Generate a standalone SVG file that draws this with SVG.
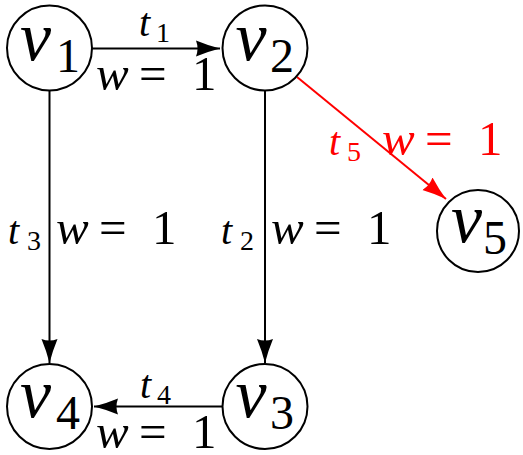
<svg xmlns="http://www.w3.org/2000/svg" width="523" height="455" viewBox="0 0 523 455">
<style>
.node{fill:#fff;stroke:#000;stroke-width:2}
.edge{stroke:#000;stroke-width:2;fill:none}
</style>
<defs>
<marker id="ah" markerUnits="userSpaceOnUse" viewBox="0 0 25 18" markerWidth="25" markerHeight="18" refX="24" refY="9" orient="auto">
<path d="M24,9 Q12,6 0,1 Q3,9 0,17 Q12,12 24,9 Z" fill="#000"/>
</marker>
<marker id="ahr" markerUnits="userSpaceOnUse" viewBox="0 0 25 18" markerWidth="25" markerHeight="18" refX="24" refY="9" orient="auto">
<path d="M24,9 Q12,6 0,1 Q3,9 0,17 Q12,12 24,9 Z" fill="#f00"/>
</marker>
</defs>
<g id="connectors">
<line class="edge" x1="92" y1="48.5" x2="220" y2="48.5" marker-end="url(#ah)"/>
<line class="edge" x1="49.5" y1="91" x2="49.5" y2="363" marker-end="url(#ah)"/>
<line class="edge" x1="265" y1="91" x2="265" y2="363" marker-end="url(#ah)"/>
<line class="edge" x1="222" y1="406.5" x2="94" y2="406.5" marker-end="url(#ah)"/>
<line class="edge" stroke="#f00" style="stroke:#f00" x1="297" y1="77" x2="446" y2="199" marker-end="url(#ahr)"/>
</g>
<g id="labels">
<text x="139" y="36" font-size="40" font-family="Times New Roman" font-style="italic">t<tspan font-style="normal" font-size="28" x="156" y="42">1</tspan></text>
<text x="96" y="90" font-size="49" font-family="Times New Roman" font-style="italic">w<tspan font-style="normal" x="139">=</tspan><tspan font-style="normal" x="192">1</tspan></text>
<text x="8" y="244" font-size="40" font-family="Times New Roman" font-style="italic">t<tspan font-style="normal" font-size="28" x="27" y="250">3</tspan></text>
<text x="56" y="244" font-size="49" font-family="Times New Roman" font-style="italic">w<tspan font-style="normal" x="99">=</tspan><tspan font-style="normal" x="152">1</tspan></text>
<text x="221" y="244" font-size="40" font-family="Times New Roman" font-style="italic">t<tspan font-style="normal" font-size="28" x="240" y="250">2</tspan></text>
<text x="271" y="244" font-size="49" font-family="Times New Roman" font-style="italic">w<tspan font-style="normal" x="314">=</tspan><tspan font-style="normal" x="367">1</tspan></text>
<text x="140" y="398" font-size="40" font-family="Times New Roman" font-style="italic">t<tspan font-style="normal" font-size="28" x="157" y="404">4</tspan></text>
<text x="96" y="448" font-size="49" font-family="Times New Roman" font-style="italic">w<tspan font-style="normal" x="139">=</tspan><tspan font-style="normal" x="192">1</tspan></text>
<text x="329" y="155" font-size="40" font-family="Times New Roman" font-style="italic" fill="#f00">t<tspan font-style="normal" font-size="28" x="347" y="161">5</tspan></text>
<text x="382" y="155" font-size="49" font-family="Times New Roman" font-style="italic" fill="#f00">w<tspan font-style="normal" x="425">=</tspan><tspan font-style="normal" x="478">1</tspan></text>
</g>
<g id="v1"><circle class="node" cx="49.5" cy="48" r="42.5"/><text x="20" y="60" font-size="70" font-family="Times New Roman" font-style="italic">v<tspan font-style="normal" font-size="48" x="56" y="72">1</tspan></text></g>
<g id="v2"><circle class="node" cx="265" cy="48" r="42.5"/><text x="235.5" y="60" font-size="70" font-family="Times New Roman" font-style="italic">v<tspan font-style="normal" font-size="48" x="270" y="72">2</tspan></text></g>
<g id="v5"><circle class="node" cx="478" cy="231" r="41"/><text x="451" y="242" font-size="70" font-family="Times New Roman" font-style="italic">v<tspan font-style="normal" font-size="48" x="483" y="254">5</tspan></text></g>
<g id="v4"><circle class="node" cx="49.5" cy="406.5" r="42.5"/><text x="20" y="417" font-size="70" font-family="Times New Roman" font-style="italic">v<tspan font-style="normal" font-size="48" x="56" y="429">4</tspan></text></g>
<g id="v3"><circle class="node" cx="265" cy="406.5" r="42.5"/><text x="235.5" y="417" font-size="70" font-family="Times New Roman" font-style="italic">v<tspan font-style="normal" font-size="48" x="270" y="429">3</tspan></text></g>
</svg>
